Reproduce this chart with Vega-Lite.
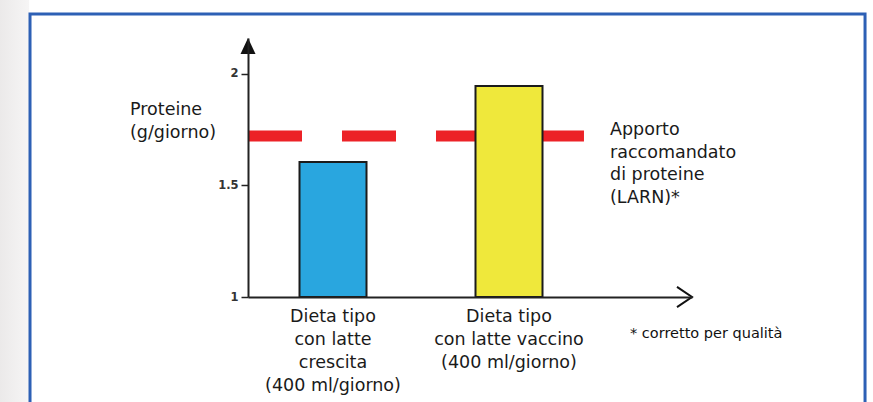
{
  "$schema": "https://vega.github.io/schema/vega-lite/v6.json",
  "autosize": "none",
  "width": 444,
  "height": 259,
  "padding": {"left": 248, "top": 38, "right": 181, "bottom": 105},
  "background": "white",
  "config": {"view": {"stroke": null}, "font": "DejaVu Sans", "scale": {"continuousPadding": 0}},
  "datasets": {
    "diete": [
      {"dieta": "Dieta tipo\ncon latte\ncrescita\n(400 ml/giorno)", "pos": 1, "proteine": 1.605},
      {"dieta": "Dieta tipo\ncon latte vaccino\n(400 ml/giorno)", "pos": 2, "proteine": 1.946}
    ],
    "larn": [{"riferimento": "Apporto raccomandato di proteine (LARN)", "proteine": 1.722}]
  },
  "layer": [
    {
      "data": {"values": [{}]},
      "mark": {"type": "rect", "fill": {"gradient": "linear", "x1": 0, "x2": 1, "y1": 0, "y2": 0, "stops": [{"offset": 0, "color": "#e4e2e2"}, {"offset": 1, "color": "#f6f5f5"}]}},
      "encoding": {
        "x": {"datum": -1.0, "type": "quantitative", "scale": {"domain": [0.517, 3.0398], "nice": false, "zero": false, "padding": 0}},
        "x2": {"datum": -0.727},
        "y": {"datum": 2.5, "type": "quantitative", "scale": {"domain": [1, 2.161], "nice": false, "zero": false, "padding": 0}},
        "y2": {"datum": 0.3}
      }
    },
    {
      "data": {"values": [{}]},
      "mark": {"type": "rect", "fillOpacity": 0, "stroke": "#2d60b5", "strokeWidth": 3},
      "encoding": {
        "x": {"datum": -0.7216, "type": "quantitative", "scale": {"domain": [0.517, 3.0398], "nice": false, "zero": false, "padding": 0}},
        "x2": {"datum": 4.023},
        "y": {"datum": 2.269, "type": "quantitative", "scale": {"domain": [1, 2.161], "nice": false, "zero": false, "padding": 0}},
        "y2": {"datum": 0.3}
      }
    },
    {
      "data": {"name": "larn"},
      "mark": {"type": "rule", "color": "#ec2227", "strokeWidth": 11, "strokeDash": [54, 40], "strokeCap": "butt"},
      "encoding": {
        "x": {"datum": 0.517, "type": "quantitative", "scale": {"domain": [0.517, 3.0398], "nice": false, "zero": false, "padding": 0}},
        "x2": {"datum": 2.426},
        "y": {"field": "proteine", "type": "quantitative", "scale": {"domain": [1, 2.161], "nice": false, "zero": false, "padding": 0}}
      }
    },
    {
      "data": {"name": "diete"},
      "mark": {"type": "bar", "size": 67, "stroke": "#1b1b1b", "strokeWidth": 2},
      "encoding": {
        "x": {"field": "pos", "type": "quantitative", "scale": {"domain": [0.517, 3.0398], "nice": false, "zero": false, "padding": 0},
          "axis": {"labels": false, "ticks": false, "grid": false, "title": null, "domainColor": "#222", "domainWidth": 2, "zindex": 1}},
        "y": {"field": "proteine", "type": "quantitative", "scale": {"domain": [1, 2.161], "nice": false, "zero": false, "padding": 0},
          "axis": {"values": [1, 1.5, 2], "format": "~g", "labelFont": "DejaVu Sans", "labelFontSize": 11.5, "labelFontWeight": "bold", "labelColor": "#333", "tickSize": 7, "tickColor": "#222", "tickWidth": 1.5, "domainColor": "#222", "domainWidth": 2, "grid": false, "title": null, "labelPadding": 3, "zindex": 1}},
        "y2": {"datum": 1},
        "color": {"field": "dieta", "type": "nominal", "legend": null, "scale": {"range": ["#29a6df", "#efe83b"]}}
      }
    },
    {
      "data": {"name": "diete"},
      "mark": {"type": "text", "lineBreak": "\n", "fontSize": 17.5, "lineHeight": 23, "align": "center", "baseline": "alphabetic", "color": "#1a1a1a"},
      "encoding": {
        "x": {"field": "pos", "type": "quantitative", "scale": {"domain": [0.517, 3.0398], "nice": false, "zero": false, "padding": 0}},
        "y": {"datum": 0.888, "type": "quantitative", "scale": {"domain": [1, 2.161], "nice": false, "zero": false, "padding": 0}},
        "text": {"field": "dieta"}
      }
    },
    {
      "data": {"values": [{}]},
      "mark": {"type": "text", "text": "Proteine\n(g/giorno)", "lineBreak": "\n", "fontSize": 17.5, "lineHeight": 23, "align": "left", "baseline": "alphabetic", "color": "#1a1a1a"},
      "encoding": {
        "x": {"datum": -0.1534, "type": "quantitative", "scale": {"domain": [0.517, 3.0398], "nice": false, "zero": false, "padding": 0}},
        "y": {"datum": 1.816, "type": "quantitative", "scale": {"domain": [1, 2.161], "nice": false, "zero": false, "padding": 0}}
      }
    },
    {
      "data": {"values": [{}]},
      "mark": {"type": "text", "text": "Apporto\nraccomandato\ndi proteine\n(LARN)*", "lineBreak": "\n", "fontSize": 17.5, "lineHeight": 22.7, "align": "left", "baseline": "alphabetic", "color": "#1a1a1a"},
      "encoding": {
        "x": {"datum": 2.574, "type": "quantitative", "scale": {"domain": [0.517, 3.0398], "nice": false, "zero": false, "padding": 0}},
        "y": {"datum": 1.726, "type": "quantitative", "scale": {"domain": [1, 2.161], "nice": false, "zero": false, "padding": 0}}
      }
    },
    {
      "data": {"values": [{}]},
      "mark": {"type": "text", "text": "* corretto per qualità", "fontSize": 14.5, "align": "left", "baseline": "alphabetic", "color": "#111"},
      "encoding": {
        "x": {"datum": 2.6875, "type": "quantitative", "scale": {"domain": [0.517, 3.0398], "nice": false, "zero": false, "padding": 0}},
        "y": {"datum": 0.816, "type": "quantitative", "scale": {"domain": [1, 2.161], "nice": false, "zero": false, "padding": 0}}
      }
    },
    {
      "data": {"values": [{}]},
      "mark": {"type": "point", "shape": "M0,0L-1,2.13L1,2.13Z", "size": 225, "filled": true, "color": "#111", "opacity": 1},
      "encoding": {
        "x": {"datum": 0.517, "type": "quantitative", "scale": {"domain": [0.517, 3.0398], "nice": false, "zero": false, "padding": 0}},
        "y": {"datum": 2.161, "type": "quantitative", "scale": {"domain": [1, 2.161], "nice": false, "zero": false, "padding": 0}}
      }
    },
    {
      "data": {"values": [{}]},
      "mark": {"type": "point", "shape": "M-2,-1.35L0,0L-2,1.35", "size": 225, "filled": false, "stroke": "#111", "strokeWidth": 2, "opacity": 1},
      "encoding": {
        "x": {"datum": 3.0398, "type": "quantitative", "scale": {"domain": [0.517, 3.0398], "nice": false, "zero": false, "padding": 0}},
        "y": {"datum": 1, "type": "quantitative", "scale": {"domain": [1, 2.161], "nice": false, "zero": false, "padding": 0}}
      }
    }
  ]
}
